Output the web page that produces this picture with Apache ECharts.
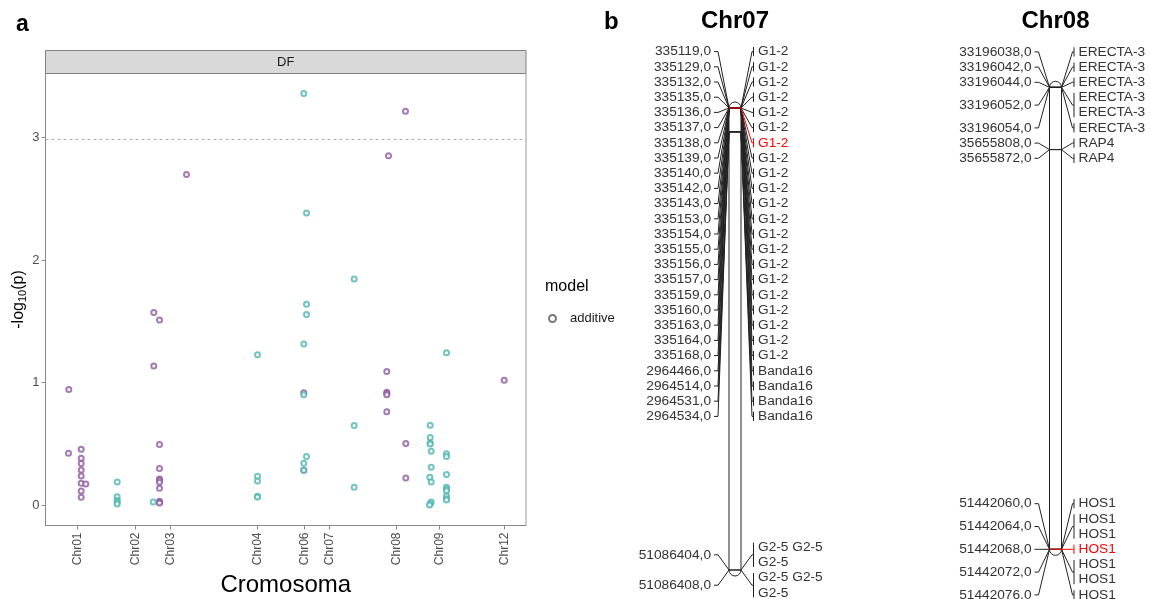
<!DOCTYPE html>
<html>
<head>
<meta charset="utf-8">
<script src="https://cdn.jsdelivr.net/npm/echarts@6/dist/echarts.min.js"></script>
<style>
  html, body { margin: 0; padding: 0; background: #fff; }
  #main { width: 1150px; height: 599px; }
</style>
</head>
<body>
<div id="main"></div>
<script>
// ---- panel a: Manhattan plot (DF) ----
// cumulative genome position (arbitrary units) of each chromosome tick
const chrTicks = [32, 90, 125, 212, 259, 284, 351, 394, 459];
const chrLabels = ['Chr01', 'Chr02', 'Chr03', 'Chr04', 'Chr06', 'Chr07', 'Chr08', 'Chr09', 'Chr12'];
const yTicks = [0, 1, 2, 3];
const threshold = 2.98;

// [position, -log10(p)]
const purplePoints = [
  [23.3, 0.944], [23, 0.424],
  [35.7, 0.457], [35.7, 0.384], [35.7, 0.340], [35.7, 0.288], [35.7, 0.239],
  [35.7, 0.180], [35.7, 0.117], [35.7, 0.065], [40.3, 0.174],
  [108.3, 1.572], [108.3, 1.135],
  [114, 1.510], [114, 0.495], [114, 0.299], [114, 0.215], [114, 0.204],
  [114, 0.188], [114, 0.139], [114, 0.033], [114, 0.024], [114, 0.019],
  [141, 2.696],
  [258.3, 0.917], [258.3, 0.286],
  [343, 2.849], [341.3, 1.091], [341.3, 0.922], [341.3, 0.911], [341.3, 0.900], [341.3, 0.762],
  [360, 3.213], [360.3, 0.503], [360.3, 0.223],
  [458.7, 1.020]
];
const tealPoints = [
  [71.7, 0.190], [71.7, 0.070], [71.7, 0.038], [71.7, 0.024], [71.7, 0.011], [107.7, 0.027],
  [212, 1.227], [212, 0.237], [212, 0.198], [212, 0.073], [212, 0.068],
  [258.3, 3.357], [258.3, 1.314], [258.3, 0.900], [258.3, 0.343], [258.3, 0.286],
  [261, 2.383], [261, 1.638], [261, 1.556], [261, 0.397],
  [308.7, 1.845], [308.7, 0.650], [308.7, 0.147],
  [384.7, 0.653], [384.7, 0.552], [384.7, 0.506], [384.7, 0.500], [385.7, 0.441],
  [385.7, 0.310], [384.3, 0.229], [385.7, 0.190], [385.7, 0.027], [384.7, 0.013], [384, 0.002],
  [401, 1.243], [401, 0.419], [401, 0.397], [401, 0.250], [401, 0.147], [401, 0.131],
  [401, 0.119], [401, 0.076], [401, 0.054], [401, 0.043]
];

// ---- panel b: linkage map ----
const chr07Pos = [335119, 335129, 335132, 335135, 335136, 335137, 335138, 335139, 335140,
  335142, 335143, 335153, 335154, 335155, 335156, 335157, 335159, 335160, 335163, 335164,
  335168, 2964466, 2964514, 2964531, 2964534, 51086404, 51086408];
const chr07Loci = [
  ...Array(21).fill(['G1-2']),
  ...Array(4).fill(['Banda16']),
  ['G2-5 G2-5', 'G2-5'], ['G2-5 G2-5', 'G2-5']
];
const chr07Highlight = [335138];

const chr08Pos = [33196038, 33196042, 33196044, 33196052, 33196054, 35655808, 35655872,
  51442060, 51442064, 51442068, 51442072, 51442076];
const chr08Loci = [
  ['ERECTA-3'], ['ERECTA-3'], ['ERECTA-3'], ['ERECTA-3', 'ERECTA-3'], ['ERECTA-3'],
  ['RAP4'], ['RAP4'],
  ['HOS1'], ['HOS1', 'HOS1'], ['HOS1'], ['HOS1', 'HOS1'], ['HOS1']
];
const chr08Highlight = [51442068];

const FONT = '"Liberation Sans", Arial, sans-serif';
const INK = '#222';
const RED = '#ff0000';
const LINE_H = 15.2;
const TOP_BOUND = 44;

// spread label rows so they don't overlap, keeping groups centred on their markers
function spreadRows(ideals, heights, topBound) {
  let clusters = ideals.map((_, i) => ({ first: i, last: i }));
  const place = cl => {
    let h = 0, s = 0;
    for (let i = cl.first; i <= cl.last; i++) {
      s += ideals[i] - (h + heights[i] / 2);
      h += heights[i];
    }
    cl.h = h;
    cl.top = Math.max(s / (cl.last - cl.first + 1), topBound);
  };
  let merged = true;
  while (merged) {
    merged = false;
    clusters.forEach(place);
    const next = [clusters[0]];
    for (let k = 1; k < clusters.length; k++) {
      const prev = next[next.length - 1];
      if (prev.top + prev.h > clusters[k].top + 0.01) {
        prev.last = clusters[k].last;
        place(prev);
        merged = true;
      } else {
        next.push(clusters[k]);
      }
    }
    clusters = next;
  }
  const tops = [];
  clusters.forEach(cl => {
    let t = cl.top;
    for (let i = cl.first; i <= cl.last; i++) { tops[i] = t; t += heights[i]; }
  });
  return tops;
}

function txt(text, x, y, align, color, extra) {
  return Object.assign({
    type: 'text',
    style: {
      text: text, x: x, y: y,
      align: align, textAlign: align, verticalAlign: 'middle', textVerticalAlign: 'middle',
      fill: color, fontSize: 13.7, fontFamily: FONT
    }
  }, extra || {});
}

function rowRenderer(positions, loci, highlight) {
  let layout = null;
  return function (params, api) {
    const i = api.value(2);
    if (!layout || params.dataIndex === 0) {
      const ideals = positions.map(p => api.coord([0, p])[1]);
      const heights = loci.map(l => l.length * LINE_H);
      layout = { tops: spreadRows(ideals, heights, TOP_BOUND), heights: heights };
    }
    const px = v => api.coord([v, api.value(1)])[0];
    const my = api.coord([0, api.value(1)])[1];
    const top = layout.tops[i], h = layout.heights[i], cy = top + h / 2;
    const hi = highlight.indexOf(positions[i]) >= 0;
    const rc = hi ? RED : INK;
    const z2 = hi ? 20 : 1;
    const children = [
      { type: 'line', z2: z2, shape: { x1: px(-6), y1: my, x2: px(6), y2: my },
        style: { stroke: rc, lineWidth: 1 } },
      { type: 'polyline', shape: { points: [[px(-21), cy], [px(-17), cy], [px(-6), my]] },
        style: { stroke: INK, fill: 'none', lineWidth: 1 } },
      txt(positions[i] + ',0', px(-24), cy, 'right', '#333'),
      { type: 'polyline', z2: z2, shape: { points: [[px(6), my], [px(17), cy], [px(18.5), cy]] },
        style: { stroke: rc, fill: 'none', lineWidth: 1 } },
      { type: 'line', z2: z2, shape: { x1: px(18.5), y1: cy - (h / 2 - 3), x2: px(18.5), y2: cy + (h / 2 - 3) },
        style: { stroke: rc, lineWidth: 1 } }
    ];
    loci[i].forEach((t, k) => {
      children.push(txt(t, px(23), top + (k + 0.5) * LINE_H, 'left', hi ? RED : '#333', { z2: z2 }));
    });
    return { type: 'group', children: children };
  };
}

function bodyRenderer(params, api) {
  const a = api.coord([-6, api.value(1)]);
  const b = api.coord([6, api.value(2)]);
  return {
    type: 'rect',
    shape: { x: a[0], y: a[1] - 6, width: b[0] - a[0], height: b[1] - a[1] + 12, r: 6 },
    style: { fill: '#fff', stroke: INK, lineWidth: 1 }
  };
}

const chart = echarts.init(document.getElementById('main'), null, { renderer: 'canvas' });

const pointStyle = color => ({
  type: 'scatter', name: 'additive', xAxisIndex: 0, yAxisIndex: 0,
  symbol: 'emptyCircle', symbolSize: 5,
  itemStyle: { color: color, borderWidth: 1, opacity: 0.8 },
  silent: true
});

const option = {
  animation: false,
  textStyle: { fontFamily: FONT },
  graphic: [
    { type: 'text', x: 16, y: 25, style: { text: 'a', font: 'bold 23px ' + FONT, fill: '#000',
      textVerticalAlign: 'middle', verticalAlign: 'middle' } },
    { type: 'text', x: 604, y: 22, style: { text: 'b', font: 'bold 24px ' + FONT, fill: '#000',
      textVerticalAlign: 'middle', verticalAlign: 'middle' } },
    { type: 'rect', shape: { x: 45.5, y: 50.5, width: 480.5, height: 23 },
      style: { fill: '#d9d9d9', stroke: '#808080', lineWidth: 1 } },
    { type: 'text', x: 285.7, y: 62, style: { text: 'DF', font: '13px ' + FONT, fill: '#1a1a1a',
      textAlign: 'center', align: 'center', textVerticalAlign: 'middle', verticalAlign: 'middle' } },
    { type: 'text', x: 545, y: 287, style: { text: 'model', font: '16px ' + FONT, fill: '#000',
      textVerticalAlign: 'middle', verticalAlign: 'middle' } },
    { type: 'text', x: 735, y: 21.7, style: { text: 'Chr07', font: 'bold 24px ' + FONT, fill: '#000',
      textAlign: 'center', align: 'center', textVerticalAlign: 'middle', verticalAlign: 'middle' } },
    { type: 'text', x: 1055.5, y: 21.7, style: { text: 'Chr08', font: 'bold 24px ' + FONT, fill: '#000',
      textAlign: 'center', align: 'center', textVerticalAlign: 'middle', verticalAlign: 'middle' } }
  ],
  legend: {
    left: 543, top: 307, orient: 'vertical',
    itemWidth: 7, itemHeight: 7, icon: 'emptyCircle',
    selectedMode: false,
    data: [{ name: 'additive', itemStyle: { color: '#555', borderColor: '#555', borderWidth: 1 } }],
    textStyle: { fontSize: 13, color: '#1a1a1a', padding: [0, 0, 0, 9] }
  },
  grid: [
    { left: 45.5, top: 73.5, width: 480.5, height: 452, show: true, borderColor: '#999', borderWidth: 1,
      outerBoundsMode: 'none', containLabel: false },
    { left: 620, top: 108, width: 230, height: 462, outerBoundsMode: 'none' },
    { left: 940.5, top: 87.3, width: 230, height: 462, outerBoundsMode: 'none' }
  ],
  xAxis: [
    {
      gridIndex: 0, type: 'value', min: 0, max: 480.5,
      name: 'Cromosoma', nameLocation: 'middle', nameGap: 40,
      nameTextStyle: { fontSize: 24, color: '#000' },
      axisLine: { onZero: false, lineStyle: { color: '#888' } },
      axisTick: { show: true, length: 4, customValues: chrTicks, lineStyle: { color: '#888' } },
      axisLabel: {
        customValues: chrTicks, rotate: 90, fontSize: 12, color: '#4d4d4d', margin: 7,
        formatter: v => chrLabels[chrTicks.indexOf(v)] || ''
      },
      splitLine: { show: false }
    },
    { gridIndex: 1, type: 'value', min: -115, max: 115, show: false },
    { gridIndex: 2, type: 'value', min: -115, max: 115, show: false }
  ],
  yAxis: [
    {
      gridIndex: 0, type: 'value', min: -0.165, max: 3.52,
      name: '-log{sub|10}(p)', nameLocation: 'middle', nameGap: 17, nameRotate: 90,
      nameTextStyle: { fontSize: 16, color: '#000', rich: { sub: { fontSize: 11, padding: [8, 0, 0, 0] } } },
      axisLine: { show: true, onZero: false, lineStyle: { color: '#888' } },
      axisTick: { show: true, length: 4, customValues: yTicks, lineStyle: { color: '#888' } },
      axisLabel: { customValues: yTicks, fontSize: 13, color: '#4d4d4d', margin: 6 },
      splitLine: { show: false }
    },
    { gridIndex: 1, type: 'value', inverse: true, min: 335119, max: 51086408, show: false },
    { gridIndex: 2, type: 'value', inverse: true, min: 33196038, max: 51442068, show: false }
  ],
  series: [
    Object.assign(pointStyle('#8d5aa0'), {
      data: purplePoints,
      markLine: {
        silent: true, symbol: ['none', 'none'], label: { show: false },
        lineStyle: { type: [3, 3], color: '#999', width: 0.8 },
        data: [{ yAxis: threshold }]
      }
    }),
    Object.assign(pointStyle('#4fb5b0'), { data: tealPoints }),
    {
      type: 'custom', xAxisIndex: 1, yAxisIndex: 1, z: 1, silent: true,
      renderItem: bodyRenderer,
      data: [[0, chr07Pos[0], chr07Pos[chr07Pos.length - 1]]]
    },
    {
      type: 'custom', xAxisIndex: 1, yAxisIndex: 1, z: 2, silent: true,
      renderItem: rowRenderer(chr07Pos, chr07Loci, chr07Highlight),
      data: chr07Pos.map((p, i) => [0, p, i])
    },
    {
      type: 'custom', xAxisIndex: 2, yAxisIndex: 2, z: 1, silent: true,
      renderItem: bodyRenderer,
      data: [[0, chr08Pos[0], chr08Pos[chr08Pos.length - 1]]]
    },
    {
      type: 'custom', xAxisIndex: 2, yAxisIndex: 2, z: 2, silent: true,
      renderItem: rowRenderer(chr08Pos, chr08Loci, chr08Highlight),
      data: chr08Pos.map((p, i) => [0, p, i])
    }
  ]
};

chart.setOption(option);
</script>
</body>
</html>
